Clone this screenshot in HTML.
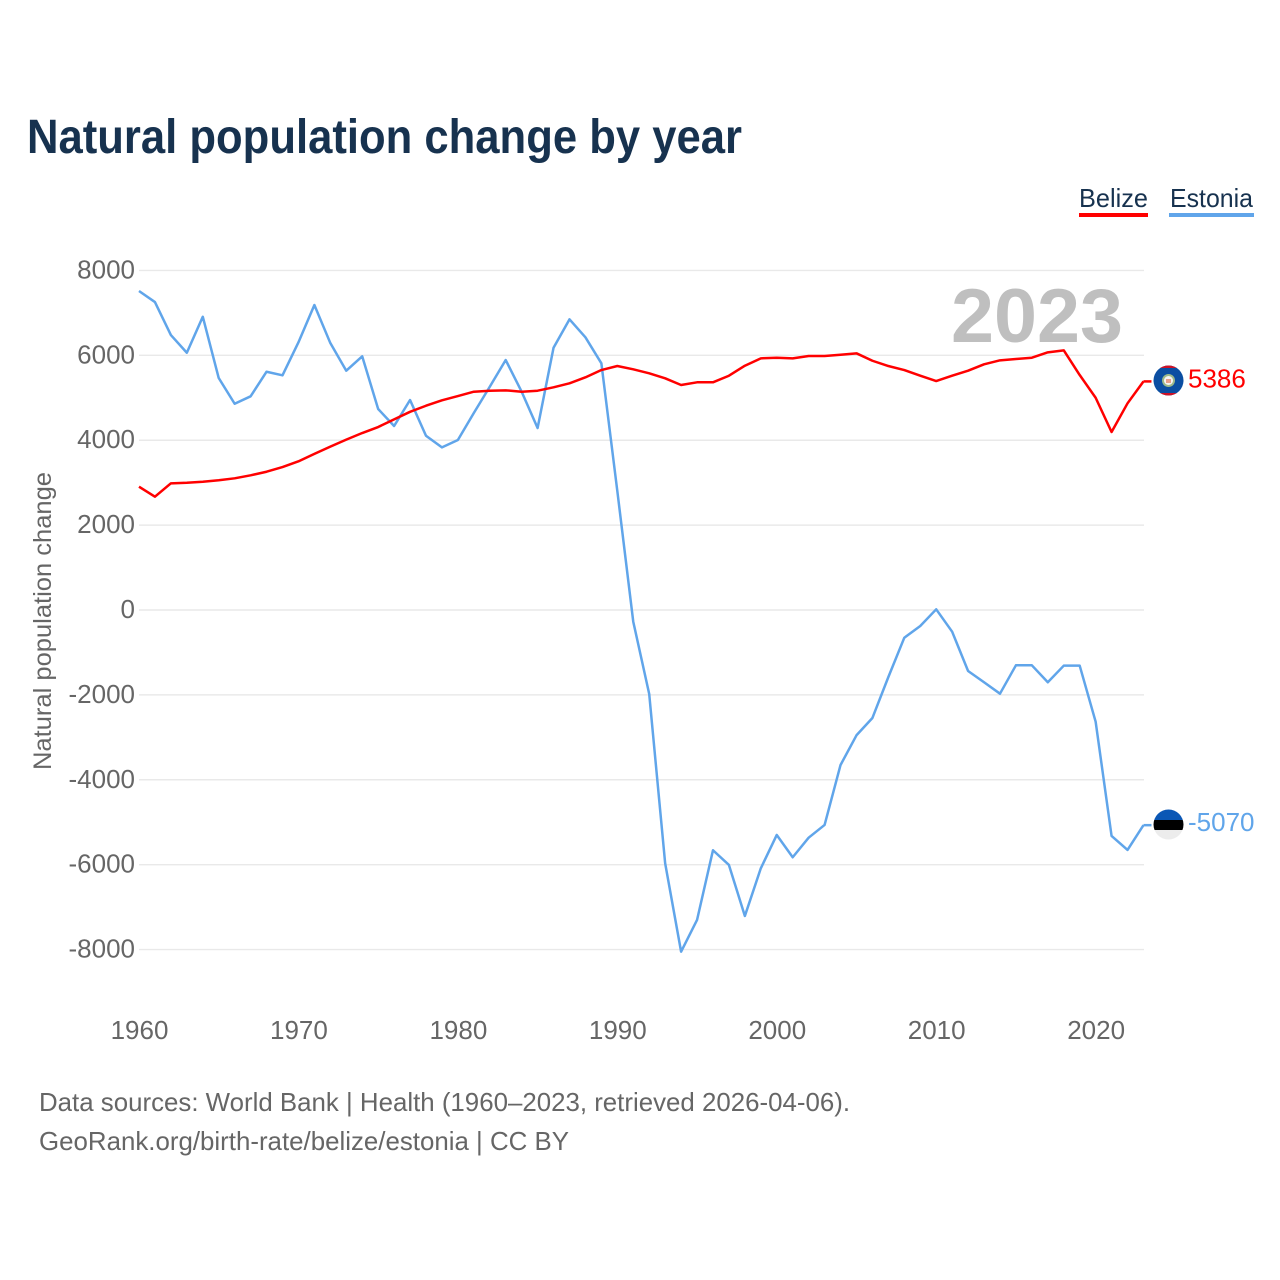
<!DOCTYPE html>
<html lang="en">
<head>
<meta charset="utf-8">
<title>Natural population change by year</title>
<style>
html,body{margin:0;padding:0;background:#fff;width:1280px;height:1280px;overflow:hidden}
svg{display:block}
text{font-family:"Liberation Sans",Arial,sans-serif}
.tick{font-size:26px;fill:#666}
.src{font-size:26px;fill:#666}
.leg{font-size:26px;fill:#17324f}
</style>
</head>
<body>
<svg id="chart" width="1280" height="1280" viewBox="0 0 1280 1280" xmlns="http://www.w3.org/2000/svg">
  <defs>
    <clipPath id="flag-clip-bz"><circle cx="1168.5" cy="380.5" r="15"/></clipPath>
    <clipPath id="flag-clip-ee"><circle cx="1168.5" cy="824.5" r="15"/></clipPath>
  </defs>
  <rect width="1280" height="1280" fill="#fff"/>
  <text x="27" y="153" font-size="48" font-weight="700" fill="#17324f" textLength="715" lengthAdjust="spacingAndGlyphs">Natural population change by year</text>

  <g>
    <g>
      <text class="leg" x="1079" y="207" textLength="69" lengthAdjust="spacingAndGlyphs">Belize</text>
      <rect x="1079" y="213" width="69" height="4" fill="#ff0000"/>
    </g>
    <g>
      <text class="leg" x="1170" y="207" textLength="83" lengthAdjust="spacingAndGlyphs">Estonia</text>
      <rect x="1169" y="213" width="85" height="4" fill="#60a5ea"/>
    </g>
  </g>

  <g id="grid"></g>
  <g id="yticks"></g>
  <g id="xticks"></g>
  <text transform="translate(51,770) rotate(-90)" font-size="25" fill="#666" textLength="298" lengthAdjust="spacingAndGlyphs">Natural population change</text>
  <text x="951" y="342" font-size="76" font-weight="700" fill="#bfbfbf" textLength="172" lengthAdjust="spacingAndGlyphs">2023</text>
  <g id="series"></g>

  <g clip-path="url(#flag-clip-bz)">
    <rect x="1153" y="365" width="31" height="31" fill="#0b4ea2"/>
    <rect x="1153" y="365" width="31" height="3" fill="#ce1126"/>
    <rect x="1153" y="393" width="31" height="3" fill="#ce1126"/>
    <circle cx="1168.5" cy="380.5" r="6.5" fill="#9db98a"/>
    <circle cx="1168.5" cy="380.5" r="4.5" fill="#f4f4f4"/>
    <rect x="1166" y="379" width="5" height="4" fill="#e8a08a"/>
  </g>
  <g clip-path="url(#flag-clip-ee)">
    <rect x="1153" y="809" width="31" height="11" fill="#0b57b5"/>
    <rect x="1153" y="820" width="31" height="10" fill="#000"/>
    <rect x="1153" y="830" width="31" height="11" fill="#ececec"/>
  </g>

  <text class="src" x="39" y="1111" textLength="811" lengthAdjust="spacingAndGlyphs">Data sources: World Bank | Health (1960–2023, retrieved 2026-04-06).</text>
  <text class="src" x="39" y="1150" textLength="530" lengthAdjust="spacingAndGlyphs">GeoRank.org/birth-rate/belize/estonia | CC BY</text>
</svg>
<script>
const startYear = 1960;
const belizeValues = [
  2905, 2669, 2985, 2999, 3023, 3056, 3103, 3174, 3258, 3369,
  3503, 3680, 3850, 4015, 4170, 4311, 4493, 4670, 4813, 4941,
  5042, 5143, 5167, 5176, 5143, 5167, 5247, 5341, 5482, 5654,
  5749, 5671, 5577, 5459, 5301, 5365, 5365, 5520, 5756, 5930,
  5944, 5930, 5984, 5984, 6015, 6048, 5873, 5749, 5654, 5520,
  5395, 5520, 5638, 5789, 5883, 5914, 5944, 6071, 6118, 5537,
  5002, 4194, 4870, 5386
];
const estoniaValues = [
  7516, 7256, 6479, 6062, 6910, 5466, 4860, 5035, 5614, 5530,
  6307, 7186, 6290, 5638, 5977, 4736, 4335, 4948, 4107, 3833,
  4005, 4641, 5261, 5890, 5143, 4288, 6180, 6849, 6425, 5812,
  2804, -276, -1979, -5968, -8050, -7304, -5661, -6008, -7209, -6086,
  -5301, -5826, -5365, -5065, -3652, -2952, -2544, -1579, -653, -377,
  16, -511, -1437, -1703, -1972, -1303, -1303, -1703, -1312, -1312,
  -2632, -5325, -5654, -5070
];
const yTickValues = [8000, 6000, 4000, 2000, 0, -2000, -4000, -6000, -8000];
const xTickYears = [1960, 1970, 1980, 1990, 2000, 2010, 2020];

const NS = 'http://www.w3.org/2000/svg';
function xScale(year) { return 139 + (year - 1960) * 15.944; }
function yScale(value) { return 610 - value * 0.04244; }
function make(tag, parent) {
  const el = document.createElementNS(NS, tag);
  parent.appendChild(el);
  return el;
}

const grid = document.getElementById('grid');
const yticks = document.getElementById('yticks');
const xticks = document.getElementById('xticks');
const series = document.getElementById('series');

yTickValues.forEach(function (v) {
  const line = make('line', grid);
  
  
  line.setAttribute('x1', 139);
  line.setAttribute('x2', 1144);
  line.setAttribute('y1', yScale(v));
  line.setAttribute('y2', yScale(v));
  line.setAttribute('stroke', '#e9e9e9');
  line.setAttribute('stroke-width', '1.4');

  const label = make('text', yticks);
  
  
  label.setAttribute('class', 'tick');
  label.setAttribute('x', 135);
  label.setAttribute('y', yScale(v) + 8);
  label.setAttribute('text-anchor', 'end');
  label.textContent = String(v);
});

xTickYears.forEach(function (year) {
  const label = make('text', xticks);
  
  
  label.setAttribute('class', 'tick');
  label.setAttribute('x', xScale(year) + 0.5);
  label.setAttribute('y', 1039);
  label.setAttribute('text-anchor', 'middle');
  label.textContent = String(year);
});

function pointsFor(values) {
  return values.map(function (v, i) {
    return xScale(startYear + i).toFixed(2) + ',' + yScale(v).toFixed(2);
  });
}

function drawEnd(values, colour, labelOffset) {
  const last = values[values.length - 1];
  const lastYear = startYear + values.length - 1;

  const connector = make('line', series);
  
  
  connector.setAttribute('x1', xScale(lastYear));
  connector.setAttribute('x2', xScale(lastYear) + 8);
  connector.setAttribute('y1', yScale(last));
  connector.setAttribute('y2', yScale(last));
  connector.setAttribute('stroke', colour);
  connector.setAttribute('stroke-width', '2.5');

  const label = make('text', series);
  
  
  label.setAttribute('x', 1188);
  label.setAttribute('y', yScale(last) + labelOffset);
  label.setAttribute('font-size', '26');
  label.setAttribute('fill', colour);
  label.textContent = String(last);
}

const estoniaLine = make('polyline', series);


estoniaLine.setAttribute('points', pointsFor(estoniaValues).join(' '));
estoniaLine.setAttribute('fill', 'none');
estoniaLine.setAttribute('stroke', '#60a5ea');
estoniaLine.setAttribute('stroke-width', '2.5');
estoniaLine.setAttribute('stroke-linejoin', 'round');

const belizeLine = make('polyline', series);


belizeLine.setAttribute('points', pointsFor(belizeValues).join(' '));
belizeLine.setAttribute('fill', 'none');
belizeLine.setAttribute('stroke', '#ff0000');
belizeLine.setAttribute('stroke-width', '2.5');
belizeLine.setAttribute('stroke-linejoin', 'round');

drawEnd(belizeValues, '#ff0000', 6);
drawEnd(estoniaValues, '#60a5ea', 6);
</script>
</body>
</html>
